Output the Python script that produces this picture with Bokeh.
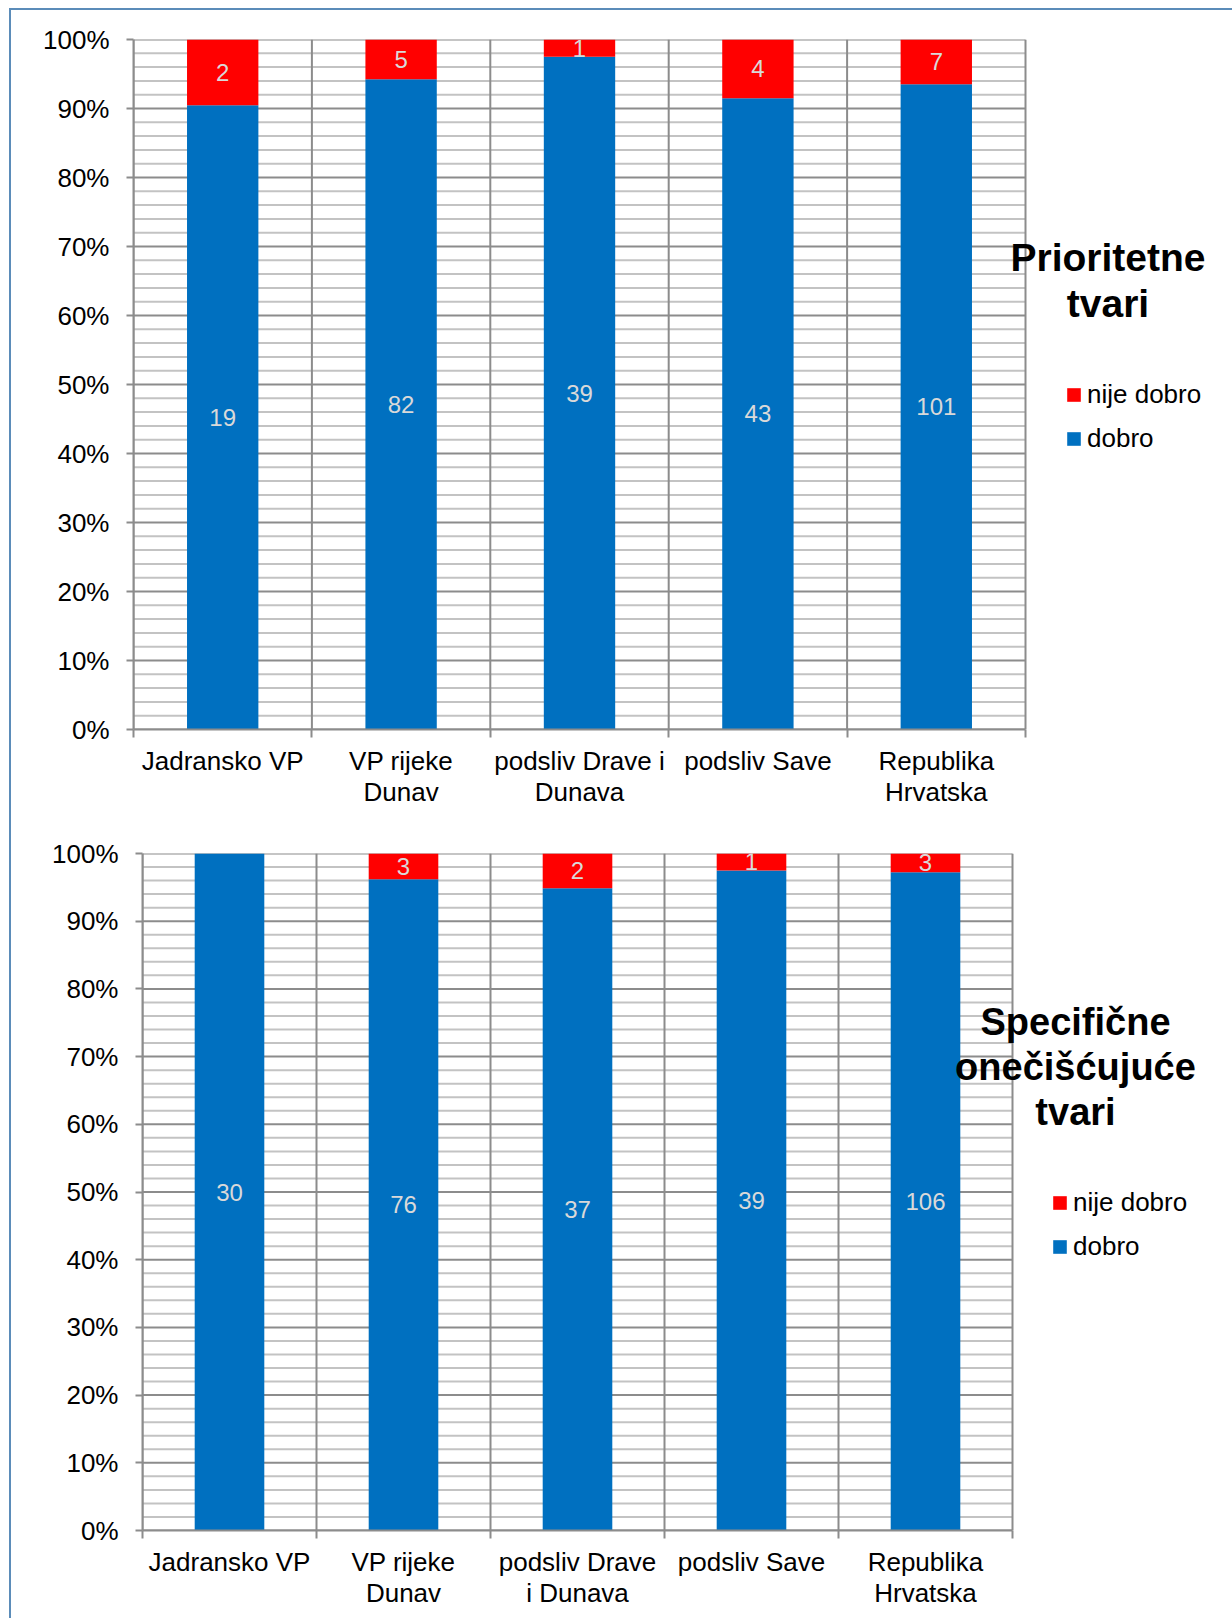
from bokeh.plotting import figure
from bokeh.models import Range1d, FixedTicker, ColumnDataSource, Label, Legend, LegendItem
from bokeh.layouts import column, row
from bokeh.embed import file_html
from bokeh.resources import INLINE
from bokeh.core.properties import value

# --- data -------------------------------------------------------------
categories_top = ["Jadransko VP", "VP rijeke\nDunav", "podsliv Drave i\nDunava",
                  "podsliv Save", "Republika\nHrvatska"]
dobro_top = [19, 82, 39, 43, 101]
nije_dobro_top = [2, 5, 1, 4, 7]

categories_bottom = ["Jadransko VP", "VP rijeke\nDunav", "podsliv Drave\ni Dunava",
                     "podsliv Save", "Republika\nHrvatska"]
dobro_bottom = [30, 76, 37, 39, 106]
nije_dobro_bottom = [0, 3, 2, 1, 3]

series_names = ["nije dobro", "dobro"]
y_ticks = [0, 10, 20, 30, 40, 50, 60, 70, 80, 90, 100]
y_tick_labels = ["0%", "10%", "20%", "30%", "40%", "50%", "60%", "70%", "80%", "90%", "100%"]

title_top = "Prioritetne\ntvari"
title_bottom = "Specifične\nonečišćujuće\ntvari"

# --- style ------------------------------------------------------------
BLUE = "#0070c0"
RED = "#ff0000"
GRID_MAJOR = "#8c8c8c"
GRID_MINOR = "#c3c3c3"
FONT = "Liberation Sans"
FRAME = "#5b8cb9"


def stacked_share_chart(categories, good, bad, title, width, height, borders,
                        x_end, title_pos, title_size, legend_loc):
    n = len(categories)
    span = 2 * n
    centers = [2 * i + 1 for i in range(n)]          # bar slots on a 0..2n axis
    bounds = [2 * i for i in range(n + 1)]           # category edges
    totals = [g + b for g, b in zip(good, bad)]
    good_pct = [100.0 * g / t for g, t in zip(good, totals)]
    bad_pct = [100.0 * b / t for b, t in zip(bad, totals)]
    stack_top = [gp + bp for gp, bp in zip(good_pct, bad_pct)]

    left, right, top, bottom = borders
    p = figure(width=width, height=height,
               x_range=Range1d(0, x_end), y_range=Range1d(0, 100),
               output_backend="svg", toolbar_location=None,
               min_border_left=left, min_border_right=right,
               min_border_top=top, min_border_bottom=bottom)
    p.background_fill_color = "white"
    p.border_fill_color = "white"
    p.outline_line_color = None
    p.grid.visible = False

    # gridlines limited to the category area (the right side holds heading and key)
    minors = [v for v in range(0, 101, 2) if v % 10]
    p.segment(x0=0, x1=span, y0=minors, y1=minors,
              line_color=GRID_MINOR, line_width=2)
    p.segment(x0=0, x1=span, y0=y_ticks, y1=y_ticks,
              line_color=GRID_MAJOR, line_width=2)
    p.segment(x0=bounds, x1=bounds, y0=0, y1=100,
              line_color=GRID_MAJOR, line_width=2)

    src = ColumnDataSource(dict(x=centers, good=good_pct, top=stack_top))
    r_good = p.vbar(x="x", bottom=0, top="good", width=0.8, source=src,
                    fill_color=BLUE, line_color=None)
    r_bad = p.vbar(x="x", bottom="good", top="top", width=0.8, source=src,
                   fill_color=RED, line_color=None)

    # value labels in the middle of each non-empty segment
    lx, ly, lt = [], [], []
    for c, g, gp, b, bp in zip(centers, good, good_pct, bad, bad_pct):
        if g:
            lx.append(c); ly.append(gp / 2); lt.append(str(g))
        if b:
            lx.append(c); ly.append(gp + bp / 2); lt.append(str(b))
    p.text(x=lx, y=ly, text=lt, text_font=value(FONT), text_font_size="24px",
           text_color="#d9d9d9", text_align="center", text_baseline="middle")

    # axes
    ax = p.xaxis[0]
    ax.bounds = (0, span)
    ax.ticker = FixedTicker(ticks=centers, minor_ticks=bounds)
    ax.major_label_overrides = {c: lab for c, lab in zip(centers, categories)}
    ax.major_tick_out = 0
    ax.major_tick_in = 0
    ax.minor_tick_out = 8
    ax.minor_tick_in = 0
    ax.minor_tick_line_color = GRID_MAJOR
    ax.minor_tick_line_width = 2
    ax.axis_line_color = GRID_MAJOR
    ax.axis_line_width = 2
    ax.major_label_text_font = FONT
    ax.major_label_text_font_size = "26px"
    ax.major_label_text_color = "black"
    ax.major_label_text_line_height = 1.05
    ax.major_label_standoff = 8

    ay = p.yaxis[0]
    ay.ticker = FixedTicker(ticks=y_ticks, minor_ticks=[])
    ay.major_label_overrides = {t: lab for t, lab in zip(y_ticks, y_tick_labels)}
    ay.major_tick_out = 7
    ay.major_tick_in = 0
    ay.major_tick_line_color = GRID_MAJOR
    ay.major_tick_line_width = 2
    ay.axis_line_color = GRID_MAJOR
    ay.axis_line_width = 2
    ay.major_label_text_font = FONT
    ay.major_label_text_font_size = "26px"
    ay.major_label_text_color = "black"
    ay.major_label_standoff = 17

    # chart heading to the right of the category area
    tx, ty = title_pos
    p.add_layout(Label(x=tx, y=ty, text=title, text_font=FONT,
                       text_font_size=title_size, text_font_style="bold",
                       text_color="black", text_align="center",
                       text_baseline="top", text_line_height=1.07))

    legend = Legend(items=[LegendItem(label=series_names[0], renderers=[r_bad]),
                           LegendItem(label=series_names[1], renderers=[r_good])],
                    location=legend_loc, orientation="vertical",
                    border_line_color=None, background_fill_alpha=0,
                    padding=0, margin=0, spacing=13,
                    glyph_width=17, glyph_height=17, label_standoff=5,
                    label_height=30, label_text_font=FONT,
                    label_text_font_size="26px", label_text_color="black")
    p.add_layout(legend)
    return p


p_top = stacked_share_chart(categories_top, dobro_top, nije_dobro_top, title_top,
                            width=1221, height=811, borders=(122, 0, 29, 92),
                            x_end=1099 / 89.2, title_pos=(10.925, 71.5),
                            title_size="39px", legend_loc=(932, 275))
p_bottom = stacked_share_chart(categories_bottom, dobro_bottom, nije_dobro_bottom,
                               title_bottom, width=1212, height=797,
                               borders=(122, 0, 32, 88),
                               x_end=1090 / 87.0, title_pos=(10.724, 78.2),
                               title_size="38px", legend_loc=(909, 268))
p_bottom.margin = (0, 0, 0, 9)

page = column(p_top, row(p_bottom), spacing=0,
              styles={"position": "absolute", "left": "9px", "top": "8px",
                      "border-left": f"2px solid {FRAME}",
                      "border-top": f"2px solid {FRAME}"})

open("out.html", "w").write(file_html(page, INLINE))
